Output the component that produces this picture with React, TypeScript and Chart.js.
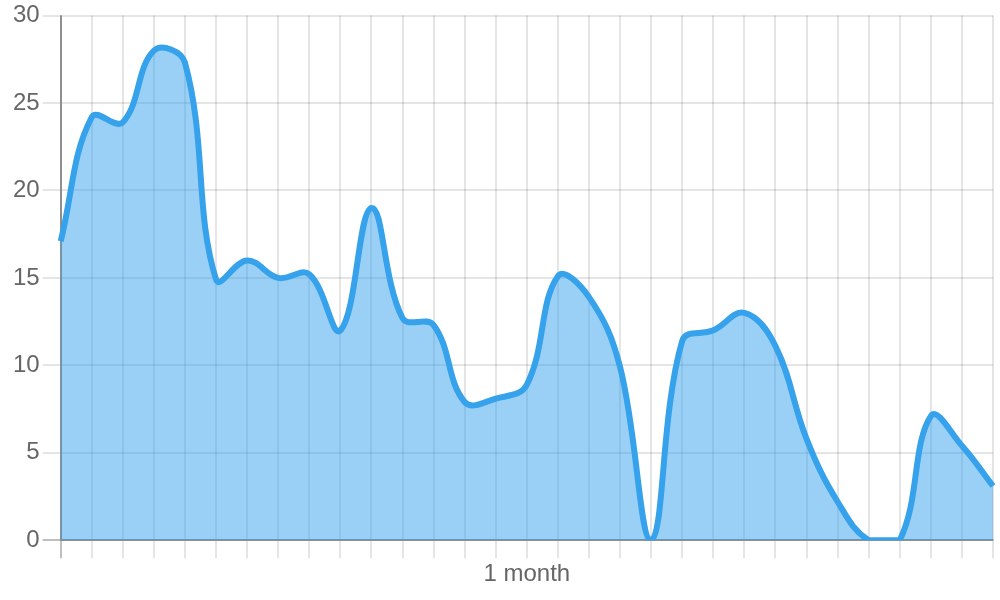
import React, { useEffect, useRef } from "react";
import { Chart, registerables } from "chart.js";

Chart.register(...registerables);

const labels: string[] = [
  "", "", "", "", "", "", "", "", "", "", "", "", "", "", "", "1 month",
  "", "", "", "", "", "", "", "", "", "", "", "", "", "", "",
];

const values: number[] = [
  17.1, 24.2, 23.9, 28.0, 27.3, 14.9, 16.0, 15.0, 15.2, 12.0, 19.0, 12.7, 12.3,
  7.9, 8.1, 8.9, 15.1, 13.9, 9.9, 0, 11.4, 12.0, 13.0, 11.1, 5.8, 2.2, 0, 0,
  7.1, 5.4, 3.1,
];

const yMin = 0;
const yMax = 30;
const yStep = 5;

export default function App() {
  const ref = useRef<HTMLCanvasElement | null>(null);

  useEffect(() => {
    if (!ref.current) return;
    const font = { family: "'Liberation Sans', Arial, sans-serif", size: 24 };
    const chart = new Chart(ref.current, {
      type: "line",
      data: {
        labels,
        datasets: [
          {
            data: values,
            borderColor: "rgb(54,162,235)",
            backgroundColor: "rgba(54,162,235,0.5)",
            borderWidth: 6,
            fill: "origin",
            tension: 0.4,
            pointRadius: 0,
            pointHoverRadius: 0,
          },
        ],
      },
      options: {
        animation: false,
        responsive: true,
        maintainAspectRatio: false,
        layout: { padding: { left: 10, right: 7, top: 0, bottom: 9 } },
        plugins: { legend: { display: false }, tooltip: { enabled: false } },
        scales: {
          x: {
            grid: {
              color: (ctx: any) =>
                ctx.index === 0 ? "rgba(0,0,0,0.25)" : "rgba(0,0,0,0.1)",
              lineWidth: 2,
              tickLength: 18,
            },
            border: { color: "rgba(0,0,0,0.25)", width: 2 },
            ticks: {
              autoSkip: false,
              maxRotation: 0,
              minRotation: 0,
              color: "#666",
              font,
              padding: 2,
            },
          },
          y: {
            min: yMin,
            max: yMax,
            grid: {
              color: (ctx: any) =>
                ctx.tick && ctx.tick.value === 0
                  ? "rgba(0,0,0,0.25)"
                  : "rgba(0,0,0,0.1)",
              lineWidth: 2,
              tickLength: 18,
            },
            border: { color: "rgba(0,0,0,0.25)", width: 2 },
            ticks: {
              stepSize: yStep,
              color: "#666",
              font: { ...font, lineHeight: 1.05 },
              padding: 3,
            },
          },
        },
      },
    });
    return () => chart.destroy();
  }, []);

  return (
    <div
      style={{
        position: "absolute",
        left: 0,
        top: 0,
        width: 1000,
        height: 600,
        background: "#fff",
      }}
    >
      <canvas ref={ref} />
    </div>
  );
}
